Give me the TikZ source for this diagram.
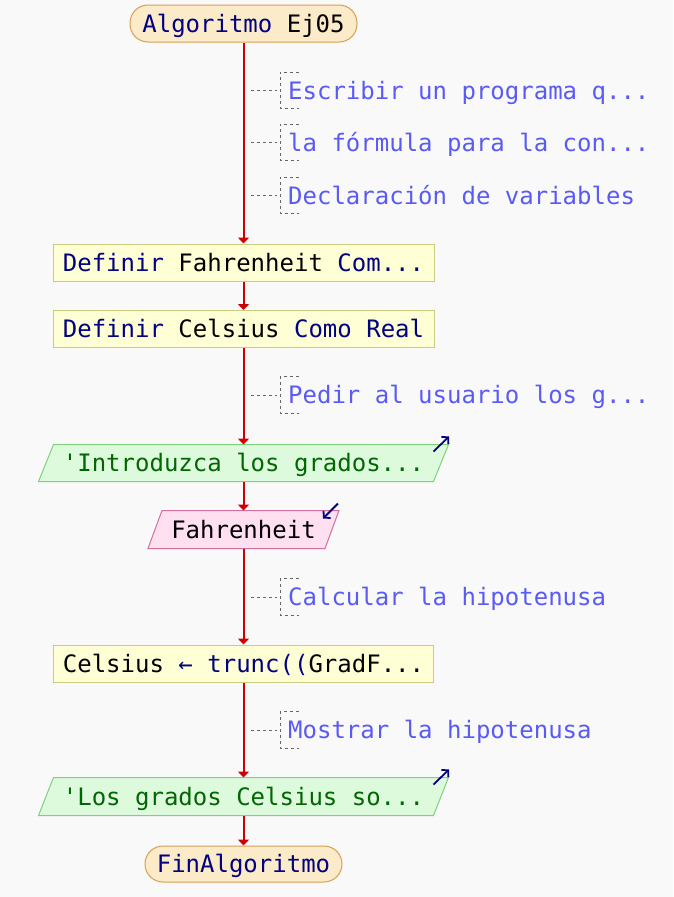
\documentclass[tikz,border=0pt]{standalone}
\usepackage{fontspec}
\newfontfamily\mono{DejaVu Sans Mono}
\usetikzlibrary{arrows.meta}
\pgfdeclarelayer{bg}
\pgfsetlayers{bg,main}
\definecolor{bgcol}{HTML}{F9F9F9}
\definecolor{termfill}{HTML}{FCEBC8}
\definecolor{termdraw}{HTML}{D4A055}
\definecolor{procfill}{HTML}{FFFFD5}
\definecolor{procdraw}{HTML}{CCCC80}
\definecolor{outfill}{HTML}{DDFADD}
\definecolor{outdraw}{HTML}{80D080}
\definecolor{infill}{HTML}{FFE0F0}
\definecolor{indraw}{HTML}{D070A0}
\definecolor{flowred}{HTML}{CC0000}
\definecolor{cmtblue}{HTML}{5A5AF5}
\definecolor{navy}{HTML}{000080}
\definecolor{dgreen}{HTML}{006600}
\definecolor{cmtgray}{HTML}{666666}
\begin{document}
\begin{tikzpicture}[x=1pt,y=-1pt,
  font=\mono\fontsize{24pt}{28pt}\selectfont,
  base/.style={inner xsep=0pt, inner ysep=0pt, text height=17.5pt, text depth=0pt, minimum height=37pt, line width=1pt},
  term/.style={base, draw=termdraw, fill=termfill, rounded corners=18pt, text=navy},
  proc/.style={base, draw=procdraw, fill=procfill, text=black},
  iobox/.style={base},
  outshape/.style={draw=outdraw, fill=outfill, line width=1pt},
  inshape/.style={draw=indraw, fill=infill, line width=1pt},
  flow/.style={color=flowred, line width=2pt, -{Triangle[width=11pt,length=6pt]}},
  cmt/.style={anchor=west, inner xsep=0pt, inner ysep=0pt, text height=17.5pt, text depth=0pt, minimum height=36pt, text=cmtblue},
  cmtline/.style={draw=cmtgray, line width=1pt, dash pattern=on 3pt off 3pt},
  icon/.style={color=navy, line width=1.8pt, -{Straight Barb[length=4.5pt,width=10pt]}}
]
\useasboundingbox (0,0) rectangle (673,897);
\begin{pgfonlayer}{bg}
\fill[bgcol] (0,0) rectangle (673,897);
\end{pgfonlayer}

% main nodes
\node[term, minimum width=227pt] (start) at (243.5,23.5) {Algoritmo {\color{black}Ej05}};
\node[proc, minimum width=381pt] (def1) at (243.5,262.5) {{\color{navy}Definir} Fahrenheit {\color{navy}Com...}};
\node[proc, minimum width=381pt, text=navy] (def2) at (243.5,329) {Definir {\color{black}Celsius} Como Real};
\node[iobox, minimum width=409pt, minimum height=36pt, text=dgreen] (out1) at (243.5,463) {'Introduzca los grados...};
\node[iobox, minimum width=190pt, text=black] (in1) at (243.5,529.5) {Fahrenheit};
\node[proc, minimum width=380pt] (proc3) at (243.5,663.5) {Celsius {\color{navy}← trunc((}GradF...};
\node[iobox, minimum width=409pt, text=dgreen] (out2) at (243.5,796.5) {'Los grados Celsius so...};
\node[term, minimum width=197pt, minimum height=36pt] (end) at (243.5,864) {FinAlgoritmo};

% parallelogram shapes
\begin{pgfonlayer}{bg}
\path[outshape] ([xshift=15pt]out1.north west) -- (out1.north east) -- ([xshift=-15pt]out1.south east) -- (out1.south west) -- cycle;
\path[inshape] ([xshift=14pt]in1.north west) -- (in1.north east) -- ([xshift=-14pt]in1.south east) -- (in1.south west) -- cycle;
\path[outshape] ([xshift=15pt]out2.north west) -- (out2.north east) -- ([xshift=-15pt]out2.south east) -- (out2.south west) -- cycle;
\end{pgfonlayer}

% icons
\draw[icon] ([shift={(-15,7)}]out1.north east) -- ([shift={(0.5,-8)}]out1.north east);
\draw[icon] ([shift={(-1,-7)}]in1.north east) -- ([shift={(-16,8)}]in1.north east);
\draw[icon] ([shift={(-15,7)}]out2.north east) -- ([shift={(0.5,-8)}]out2.north east);

% flow connectors
\draw[flow] (start) -- (def1);
\draw[flow] (def1) -- (def2);
\draw[flow] (def2) -- (out1);
\draw[flow] (out1) -- (in1);
\draw[flow] (in1) -- (proc3);
\draw[flow] (proc3) -- (out2);
\draw[flow] (out2) -- (end);

% comments
\foreach \n/\y/\t in {c1/90.5/{Escribir un programa q...},
                      c2/142.5/{la fórmula para la con...},
                      c3/195.5/{Declaración de variables},
                      c4/395/{Pedir al usuario los g...},
                      c5/597/{Calcular la hipotenusa},
                      c6/730/{Mostrar la hipotenusa}}{
  \node[cmt] (\n) at (288,\y) {\t};
  \coordinate (k\n) at (250.5,\y);
  \draw[cmtline] ([xshift=11pt]\n.north west) -- ([xshift=-8pt]\n.north west) -- ([xshift=-8pt]\n.south west) -- ([xshift=11pt]\n.south west);
  \draw[cmtline] (k\n) -- ([xshift=-11pt]\n.west);
}
\end{tikzpicture}
\end{document}
